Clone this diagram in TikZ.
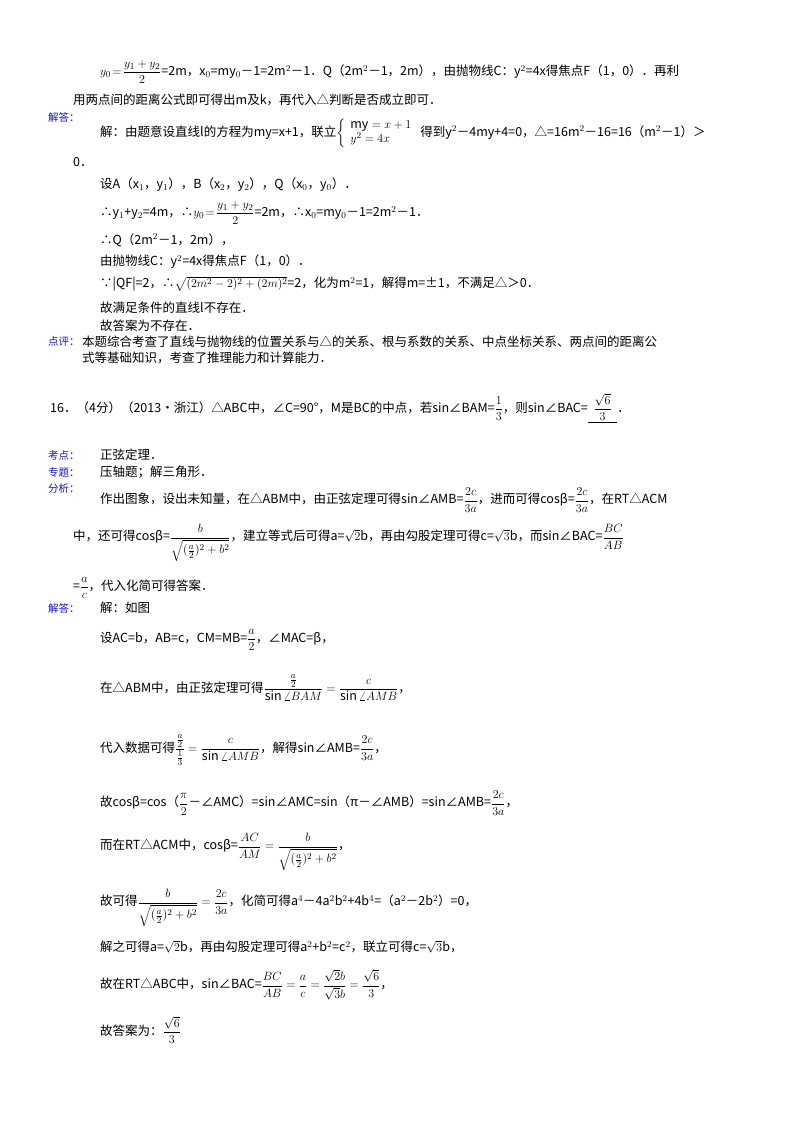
\documentclass[tikz,border=0pt]{standalone}
\usepackage{amsmath}
\usepackage{fontspec}
\setmainfont{Noto Sans CJK SC}
\definecolor{lbl}{RGB}{20,20,200}
\begin{document}
\begin{tikzpicture}[x=1pt,y=-1pt,
  t/.style={anchor=west,inner sep=0pt,font=\fontsize{12.5}{14}\selectfont},
  l/.style={anchor=west,inner sep=0pt,font=\fontsize{10.5}{12}\selectfont,text=lbl}]
\useasboundingbox (0,0) rectangle (800,1132);
\node[t] (a1) at (100,72) {$y_0\!=\!\dfrac{y_1+y_2}{2}$=2m，x$_0$=my$_0$－1=2m$^2$－1．Q（2m$^2$－1，2m），由抛物线C：y$^2$=4x得焦点F（1，0）．再利};
\node[t] (a2) at (73,100) {用两点间的距离公式即可得出m及k，再代入△判断是否成立即可．};
\node[l] (j1) at (48,118) {解答：};
\node[t] (a3) at (100,133) {解：由题意设直线l的方程为my=x+1，联立$\left\{\begin{array}{l}\mathrm{my}=x+1\\ y^2=4x\end{array}\right.$ 得到y$^2$－4my+4=0，△=16m$^2$－16=16（m$^2$－1）＞};
\node[t] (a4) at (73,162) {0．};
\node[t] (a5) at (100,185) {设A（x$_1$，y$_1$），B（x$_2$，y$_2$），Q（x$_0$，y$_0$）．};
\node[t] (a6) at (100,213) {∴y$_1$+y$_2$=4m，∴$y_0\!=\!\dfrac{y_1+y_2}{2}$=2m，∴x$_0$=my$_0$－1=2m$^2$－1．};
\node[t] (a7) at (100,240) {∴Q（2m$^2$－1，2m），};
\node[t] (a8) at (100,262) {由抛物线C：y$^2$=4x得焦点F（1，0）．};
\node[t] (a9) at (100,284) {∵|QF|=2，∴$\sqrt{(2m^2-2)^2+(2m)^2}$=2，化为m$^2$=1，解得m=±1，不满足△＞0．};
\node[t] (a10) at (100,308) {故满足条件的直线l不存在．};
\node[t] (a11) at (100,326) {故答案为不存在．};
\node[l] (d1) at (48,342) {点评：};
\node[t] (a12) at (82,342) {本题综合考查了直线与抛物线的位置关系与△的关系、根与系数的关系、中点坐标关系、两点间的距离公};
\node[t] (a13) at (82,358) {式等基础知识，考查了推理能力和计算能力．};
\node[t] (q16) at (50,408) {16．（4分）（2013•浙江）△ABC中，∠C=90°，M是BC的中点，若sin∠BAM=$\dfrac13$，则sin∠BAC=\underline{\ \ $\dfrac{\sqrt6}{3}$\ \ }．};
\node[l] (k1) at (48,455) {考点：};
\node[t] (b1) at (100,455) {正弦定理．};
\node[l] (k2) at (48,472) {专题：};
\node[t] (b2) at (100,472) {压轴题；解三角形．};
\node[l] (k3) at (48,489) {分析：};
\node[t] (b3) at (100,500) {作出图象，设出未知量，在△ABM中，由正弦定理可得sin∠AMB=$\dfrac{2c}{3a}$，进而可得cosβ=$\dfrac{2c}{3a}$，在RT△ACM};
\node[t] (b4) at (73,543) {中，还可得cosβ=$\dfrac{b}{\sqrt{(\frac a2)^2+b^2}}$，建立等式后可得a=$\sqrt2$b，再由勾股定理可得c=$\sqrt3$b，而sin∠BAC=$\dfrac{BC}{AB}$};
\node[t] (b5) at (73,588) {=$\dfrac ac$，代入化简可得答案．};
\node[l] (k4) at (48,608) {解答：};
\node[t] (c0) at (100,608) {解：如图};
\node[t] (c1) at (100,640) {设AC=b，AB=c，CM=MB=$\dfrac a2$，∠MAC=β，};
\node[t] (c2) at (100,688) {在△ABM中，由正弦定理可得$\dfrac{\frac a2}{\sin\angle BAM}=\dfrac{c}{\sin\angle AMB}$，};
\node[t] (c3) at (100,750) {代入数据可得$\dfrac{\frac a2}{\frac13}=\dfrac{c}{\sin\angle AMB}$，解得sin∠AMB=$\dfrac{2c}{3a}$，};
\node[t] (c4) at (100,803) {故cosβ=cos（$\dfrac{\pi}{2}$－∠AMC）=sin∠AMC=sin（π－∠AMB）=sin∠AMB=$\dfrac{2c}{3a}$，};
\node[t] (c5) at (100,852) {而在RT△ACM中，cosβ=$\dfrac{AC}{AM}=\dfrac{b}{\sqrt{(\frac a2)^2+b^2}}$，};
\node[t] (c6) at (100,908) {故可得$\dfrac{b}{\sqrt{(\frac a2)^2+b^2}}=\dfrac{2c}{3a}$，化简可得a$^4$－4a$^2$b$^2$+4b$^4$=（a$^2$－2b$^2$）=0，};
\node[t] (c7) at (100,947) {解之可得a=$\sqrt2$b，再由勾股定理可得a$^2$+b$^2$=c$^2$，联立可得c=$\sqrt3$b，};
\node[t] (c8) at (100,985) {故在RT△ABC中，sin∠BAC=$\dfrac{BC}{AB}=\dfrac ac=\dfrac{\sqrt2 b}{\sqrt3 b}=\dfrac{\sqrt6}{3}$，};
\node[t] (c9) at (100,1030) {故答案为：$\dfrac{\sqrt6}{3}$};
\end{tikzpicture}
\end{document}
